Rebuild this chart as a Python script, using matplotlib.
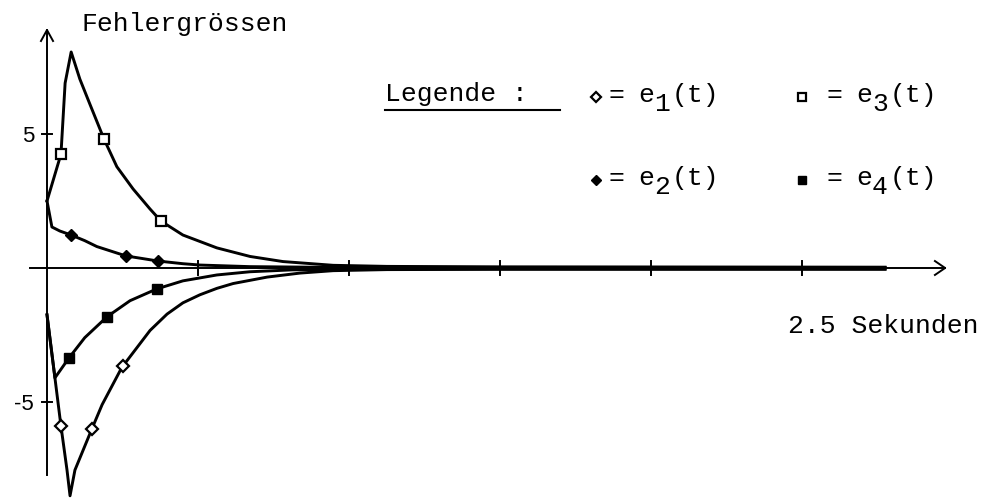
import matplotlib
matplotlib.use("Agg")
import matplotlib.pyplot as plt

# ---- data: error signals over time (seconds) ----
t_e1 = [0, 0.021, 0.037, 0.053, 0.061, 0.074, 0.119, 0.146, 0.193, 0.201,
        0.273, 0.318, 0.36, 0.405, 0.45, 0.493, 0.583, 0.67, 0.758, 0.9,
        1.2, 2.22]
e1 = [-1.75, -4.1, -5.9, -7.54, -8.5, -7.54, -6.0, -5.1, -3.85, -3.66,
      -2.33, -1.72, -1.3, -1.0, -0.76, -0.58, -0.34, -0.19, -0.1, -0.06,
      -0.05, -0.05]

t_e2 = [0, 0.013, 0.034, 0.064, 0.1, 0.132, 0.209, 0.254, 0.294, 0.36,
        0.405, 0.538, 0.7, 2.22]
e2 = [2.5, 1.53, 1.38, 1.23, 1.02, 0.8, 0.45, 0.35, 0.26, 0.16,
      0.11, 0.05, 0.03, 0.02]

t_e3 = [0, 0.037, 0.048, 0.064, 0.087, 0.114, 0.151, 0.185, 0.228, 0.273,
        0.302, 0.36, 0.45, 0.538, 0.625, 0.758, 0.9, 1.2, 2.22]
e3 = [2.5, 4.25, 6.9, 8.06, 7.05, 6.1, 4.81, 3.78, 2.95, 2.2,
      1.75, 1.23, 0.75, 0.43, 0.24, 0.1, 0.06, 0.04, 0.03]

t_e4 = [0, 0.021, 0.058, 0.1, 0.159, 0.22, 0.291, 0.36, 0.45, 0.538,
        0.65, 0.9, 2.22]
e4 = [-1.75, -4.1, -3.36, -2.6, -1.82, -1.22, -0.78, -0.48, -0.26, -0.14,
      -0.07, -0.03, -0.03]

# sample points marked on each curve
mark_t_e1 = [0.037, 0.119, 0.201]
mark_e1 = [-5.9, -6.0, -3.66]
mark_t_e2 = [0.064, 0.209, 0.294]
mark_e2 = [1.23, 0.45, 0.26]
mark_t_e3 = [0.037, 0.151, 0.302]
mark_e3 = [4.25, 4.81, 1.75]
mark_t_e4 = [0.058, 0.159, 0.291]
mark_e4 = [-3.36, -1.82, -0.78]

x_ticks = [0.4, 0.8, 1.2, 1.6, 2.0]
y_ticks = [5, -5]
y_tick_labels = ["5", "-5"]

W, H = 984, 499
fig = plt.figure(figsize=(W / 100, H / 100), dpi=100)
fig.patch.set_facecolor("white")
ax = fig.add_axes([0, 0, 1, 1])
ax.set_xlim(-0.1245, 2.482)
ax.set_ylim(-8.62, 10.0)
ax.axis("off")

MONO = "Liberation Mono"
FS = 19
K = "black"


def px(x, y):
    """pixel position -> figure fraction"""
    return x / W, 1 - y / H


# ---- axes drawn by hand with arrow heads ----
ax.plot([-0.045, 2.379], [0, 0], color=K, lw=1.4, zorder=1)
ax.plot([2.352, 2.379, 2.352], [0.26, 0, -0.26], color=K, lw=1.4, zorder=1)
ax.plot([0, 0], [-7.72, 8.88], color=K, lw=1.4, zorder=1)
ax.plot([-0.016, 0, 0.016], [8.47, 8.88, 8.47], color=K, lw=1.4, zorder=1)

for xt in x_ticks:
    ax.plot([xt, xt], [-0.27, 0.27], color=K, lw=1.4, zorder=1)
for yt, lab in zip(y_ticks, y_tick_labels):
    ax.plot([-0.013, 0.013], [yt, yt], color=K, lw=1.4, zorder=1)
    ax.text(-0.034, yt - 0.1, lab, ha="right", va="center",
            fontsize=16, family="Liberation Sans", color=K)

# ---- curves ----
for tt, vv in [(t_e1, e1), (t_e2, e2), (t_e3, e3), (t_e4, e4)]:
    ax.plot(tt, vv, color=K, lw=2.1, solid_joinstyle="round", zorder=2)

open_kw = dict(mfc="white", mec=K, mew=1.6, ls="none", zorder=3)
fill_kw = dict(mfc=K, mec=K, mew=1.0, ls="none", zorder=3)
ax.plot(mark_t_e1, mark_e1, marker="D", ms=6, **open_kw)
ax.plot(mark_t_e2, mark_e2, marker="D", ms=6.5, **fill_kw)
ax.plot(mark_t_e3, mark_e3, marker="s", ms=6.5, **open_kw)
ax.plot(mark_t_e4, mark_e4, marker="s", ms=6.5, **fill_kw)

# ---- titles ----
fig.text(*px(82, 31), "Fehlergrössen", family=MONO, fontsize=FS,
         ha="left", va="baseline", color=K)
fig.text(*px(978, 333), "2.5 Sekunden", family=MONO, fontsize=FS,
         ha="right", va="baseline", color=K)

# ---- legend ----
fig.text(*px(385, 101), "Legende :", family=MONO, fontsize=FS,
         ha="left", va="baseline", color=K)
fig.add_artist(plt.Line2D([385 / W, 560 / W], [1 - 110 / H, 1 - 110 / H],
                          color=K, lw=1.5))

entries = [
    (596, 97, "D", True, "1"),
    (802, 97, "s", True, "3"),
    (596, 180, "D", False, "2"),
    (802, 180, "s", False, "4"),
]
for x0, y0, mk, hollow, idx in entries:
    kw = open_kw if hollow else fill_kw
    fx, fy = px(x0, y0)
    fig.add_artist(plt.Line2D([fx], [fy], marker=mk, ms=5.5,
                              **{k: v for k, v in kw.items() if k != "zorder"}))
    base = y0 + 5
    gap = 20 if mk == "D" else 32
    fig.text(*px(x0 + gap, base), "=", family=MONO, fontsize=FS,
             ha="center", va="baseline", color=K)
    xe = x0 + gap + 30
    fig.text(*px(xe, base), "e", family=MONO, fontsize=FS,
             ha="center", va="baseline", color=K)
    fig.text(*px(xe + 16, base + 9), idx, family=MONO, fontsize=FS,
             ha="center", va="baseline", color=K)
    fig.text(*px(xe + 26, base), "(t)", family=MONO, fontsize=FS,
             ha="left", va="baseline", color=K)

fig.savefig("out.png", dpi=100, facecolor="white")
